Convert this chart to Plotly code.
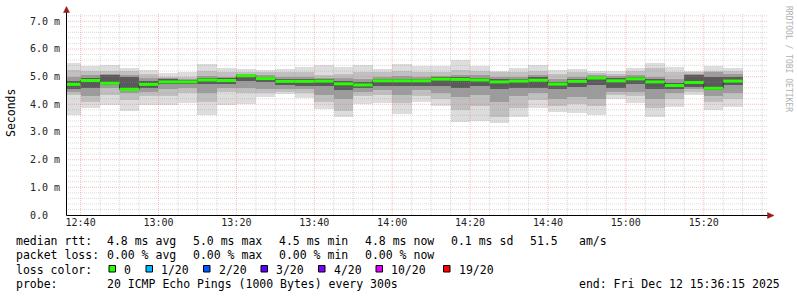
import pandas as pd
import plotly.graph_objects as go

# ---------------- data ----------------
bar_start = pd.date_range("2025-12-12 12:35:00", periods=35, freq="5min")
range_start = pd.Timestamp("2025-12-12 12:36:15")
range_end = pd.Timestamp("2025-12-12 15:36:15")

med = [4.72, 4.86, 4.76, 4.54, 4.72, 4.81, 4.81, 4.88, 4.86, 5.03, 4.93, 4.83, 4.83, 4.84, 4.74,
       4.70, 4.85, 4.85, 4.85, 4.91, 4.90, 4.88, 4.81, 4.84, 4.87, 4.73, 4.83, 4.95, 4.85, 4.92,
       4.81, 4.68, 4.79, 4.58, 4.84]
lo1 = [3.62, 3.88, 3.97, 3.77, 3.98, 3.98, 4.05, 3.60, 3.96, 4.00, 4.27, 4.36, 4.23, 3.82, 3.55,
       4.00, 4.05, 3.64, 4.07, 3.93, 3.37, 3.40, 3.31, 3.55, 3.86, 3.73, 3.67, 3.61, 4.21, 4.03,
       3.55, 3.91, 4.32, 3.78, 3.91]
lo2 = [4.35, 4.10, 4.35, 4.15, 4.30, 4.30, 4.40, 4.10, 4.45, 4.40, 4.40, 4.45, 4.40, 4.10, 3.75,
       4.30, 4.35, 4.05, 4.30, 4.20, 3.80, 3.95, 3.55, 3.85, 4.15, 3.95, 4.00, 3.95, 4.35, 4.30,
       3.85, 4.20, 4.45, 4.10, 4.20]
lo3 = [4.45, 4.30, 4.60, 4.42, 4.45, 4.55, 4.60, 4.40, 4.60, 4.60, 4.55, 4.55, 4.55, 4.35, 4.20,
       4.45, 4.50, 4.35, 4.50, 4.40, 4.25, 4.35, 4.10, 4.30, 4.40, 4.20, 4.25, 4.20, 4.45, 4.45,
       4.20, 4.40, 4.55, 4.30, 4.40]
lo4 = [4.55, 4.60, 4.70, 4.50, 4.60, 4.72, 4.75, 4.75, 4.72, 4.85, 4.80, 4.70, 4.68, 4.65, 4.50,
       4.60, 4.65, 4.65, 4.68, 4.65, 4.60, 4.65, 4.55, 4.60, 4.60, 4.55, 4.62, 4.70, 4.60, 4.75,
       4.55, 4.55, 4.63, 4.50, 4.70]
hi4 = [4.85, 4.95, 5.05, 4.97, 4.85, 4.90, 4.87, 4.95, 4.95, 5.07, 5.00, 4.92, 4.92, 4.90, 4.85,
       4.80, 4.92, 4.92, 4.92, 4.97, 4.97, 4.95, 4.90, 4.92, 4.98, 4.82, 4.92, 5.00, 4.95, 4.97,
       4.90, 4.78, 5.05, 5.00, 4.97]
hi3 = [4.98, 5.05, 5.10, 5.05, 4.95, 4.95, 4.92, 5.02, 5.00, 5.10, 5.07, 5.00, 5.00, 4.95, 4.95,
       4.90, 5.00, 5.02, 5.00, 5.03, 5.05, 5.05, 5.00, 5.00, 5.05, 4.92, 5.00, 5.05, 5.02, 5.05,
       5.00, 4.90, 5.10, 5.15, 5.08]
hi2 = [5.25, 5.20, 5.20, 5.20, 5.10, 5.00, 5.00, 5.20, 5.15, 5.18, 5.15, 5.15, 5.15, 5.05, 5.10,
       5.15, 5.15, 5.20, 5.15, 5.15, 5.25, 5.20, 5.15, 5.15, 5.20, 5.10, 5.15, 5.12, 5.10, 5.20,
       5.30, 5.15, 5.15, 5.22, 5.20]
hi1 = [5.48, 5.40, 5.42, 5.33, 5.25, 5.12, 5.17, 5.46, 5.33, 5.28, 5.23, 5.29, 5.35, 5.41, 5.35,
       5.41, 5.27, 5.44, 5.38, 5.38, 5.60, 5.39, 5.20, 5.33, 5.42, 5.23, 5.29, 5.20, 5.20, 5.33,
       5.49, 5.34, 5.20, 5.38, 5.30]

ytick_vals = [0, 1, 2, 3, 4, 5, 6, 7]
ytick_text = ["0.0\u00a0\u00a0", "1.0\u00a0m", "2.0\u00a0m", "3.0\u00a0m", "4.0\u00a0m",
              "5.0\u00a0m", "6.0\u00a0m", "7.0\u00a0m"]

stats_rtt = ["median rtt:", "4.8 ms avg", "5.0 ms max", "4.5 ms min", "4.8 ms now",
             "0.1 ms sd", "51.5", "am/s"]
stats_loss = ["packet loss:", "0.00 % avg", "0.00 % max", "0.00 % min", "0.00 % now"]
loss_labels = ["0", "1/20", "2/20", "3/20", "4/20", "10/20", "19/20"]
loss_colors = ["#26ff00", "#00b8ff", "#0059ff", "#5e00ff", "#7e00ff", "#dd00ff", "#ff0000"]
probe_text = "20 ICMP Echo Pings (1000 Bytes) every 300s"
end_text = "end: Fri Dec 12 15:36:15 2025"

# ---------------- figure ----------------
W, H = 797, 297
L, R, T, B = 66, 30, 13, 82
PW, PH = W - L - R, H - T - B


def px(x):
    return (x - L) / PW


def py(y):
    return (T + PH - y) / PH


FONT = "DejaVu Sans Mono"
centers = bar_start + pd.Timedelta(seconds=150)
width_ms = 300000

fig = go.Figure()
bands = [(lo1, hi1, "#dddddd"), (lo2, hi2, "#c0c0c0"), (lo3, hi3, "#9c9c9c"), (lo4, hi4, "#5a5a5a")]
for lo, hi, col in bands:
    fig.add_trace(go.Bar(x=centers, base=lo, y=[h - l for l, h in zip(lo, hi)], width=width_ms,
                         marker=dict(color=col, line=dict(width=0)), hoverinfo="skip",
                         showlegend=False))

# dark stepped median underneath
step_x = list(bar_start) + [bar_start[-1] + pd.Timedelta(minutes=5)]
step_y = med + [med[-1]]
fig.add_trace(go.Scatter(x=step_x, y=step_y, mode="lines", line=dict(color="#202020", width=1, shape="hv"),
                         hoverinfo="skip", showlegend=False))
# green median segments
seg_x, seg_y = [], []
for s, m in zip(bar_start, med):
    seg_x += [s, s + pd.Timedelta(minutes=5), None]
    seg_y += [m, m, None]
fig.add_trace(go.Scatter(x=seg_x, y=seg_y, mode="lines", line=dict(color=loss_colors[0], width=3),
                         hoverinfo="skip", showlegend=False))

shapes = []
minor_grey = "rgba(150,150,150,0.35)"
major_red = "rgba(235,100,100,0.42)"
# vertical grid
t = pd.Timestamp("2025-12-12 12:40:00")
while t < range_end:
    major = (t.minute % 20 == 0)
    shapes.append(dict(type="line", xref="x", yref="paper", x0=t, x1=t, y0=0, y1=1, layer="above",
                       line=dict(color=major_red if major else minor_grey, width=1, dash="1px,1px")))
    t += pd.Timedelta(minutes=5)
# horizontal grid
for i in range(1, 37):
    v = i * 0.2
    major = (i % 5 == 0)
    shapes.append(dict(type="line", xref="paper", yref="y", x0=0, x1=1, y0=v, y1=v, layer="above",
                       line=dict(color=major_red if major else minor_grey, width=1, dash="1px,1px")))
# axes lines
shapes.append(dict(type="line", xref="paper", yref="paper", x0=px(66.5), x1=px(768), y0=py(215.5), y1=py(215.5),
                   line=dict(color="black", width=1), layer="above"))
shapes.append(dict(type="line", xref="paper", yref="paper", x0=px(66.5), x1=px(66.5), y0=py(215.5), y1=py(10),
                   line=dict(color="black", width=1), layer="above"))
# arrows
arrow_col = "#9b1c1c"
shapes.append(dict(type="path", xref="paper", yref="paper", layer="above",
                   path=f"M {px(66.5)} {py(6.5)} L {px(63.5)} {py(12.5)} L {px(69.5)} {py(12.5)} Z",
                   fillcolor=arrow_col, line=dict(color=arrow_col, width=0.5)))
shapes.append(dict(type="path", xref="paper", yref="paper", layer="above",
                   path=f"M {px(774)} {py(215.5)} L {px(767.5)} {py(212.5)} L {px(767.5)} {py(218.5)} Z",
                   fillcolor=arrow_col, line=dict(color=arrow_col, width=0.5)))

annotations = []


def txt(s, x, y, size=11.5, color="#000", angle=0, xanchor="left"):
    annotations.append(dict(text=s, xref="paper", yref="paper", x=px(x), y=py(y), showarrow=False,
                            xanchor=xanchor, yanchor="middle", textangle=angle,
                            font=dict(family=FONT, size=size, color=color)))


rtt_x = [16, 107.3, 193.3, 279.3, 365.3, 451, 530, 579]
for s, x in zip(stats_rtt, rtt_x):
    txt(s.replace(" ", "\u00a0"), x - 2, 241)
for s, x in zip(stats_loss, rtt_x):
    txt(s.replace(" ", "\u00a0"), x - 2, 255.3)
txt("loss\u00a0color:", 14, 269.5)
box_x = [109, 146, 203.5, 261, 318.5, 376, 443.5]
for lab, col, bx in zip(loss_labels, loss_colors, box_x):
    shapes.append(dict(type="rect", xref="paper", yref="paper", x0=px(bx), x1=px(bx + 6.5),
                       y0=py(265.5), y1=py(272), fillcolor=col, line=dict(color="black", width=1)))
    txt(lab, bx + 13, 269.5)
txt("probe:", 14, 283.7)
txt(probe_text.replace(" ", "\u00a0"), 105.3, 283.7)
txt(end_text.replace(" ", "\u00a0"), 577, 283.7)

txt("Seconds", 11, 113, size=11.5, angle=-90, xanchor="center")
txt("RRDTOOL\u00a0/\u00a0TOBI\u00a0OETIKER", 788, 59, size=8, color="#b0b0b0", angle=90, xanchor="center")

fig.update_layout(
    width=W, height=H, margin=dict(l=L, r=R, t=T, b=B, pad=0),
    paper_bgcolor="white", plot_bgcolor="white",
    barmode="overlay", bargap=0, showlegend=False,
    shapes=shapes, annotations=annotations,
    font=dict(family=FONT, color="#222"),
    xaxis=dict(type="date", range=[range_start, range_end], showgrid=False, zeroline=False,
               showline=False, ticks="", tickformat="%H:%M", dtick=1200000,
               tick0="2025-12-12 12:40:00", tickfont=dict(size=10, family=FONT, color="#222"),
               fixedrange=True),
    yaxis=dict(range=[0, 7.3], showgrid=False, zeroline=False, showline=False, ticks="",
               tickvals=ytick_vals, ticktext=ytick_text, ticklabelstandoff=5,
               tickfont=dict(size=10, family=FONT, color="#222"), fixedrange=True),
)

fig.write_html("out.html")
